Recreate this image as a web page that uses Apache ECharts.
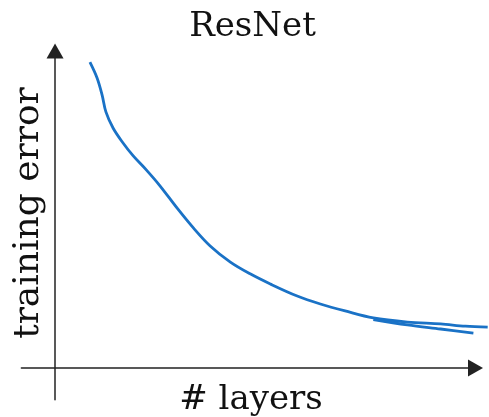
<!DOCTYPE html>
<html>
<head>
<meta charset="utf-8">
<script src="https://cdn.jsdelivr.net/npm/echarts@6/dist/echarts.min.js"></script>
<style>html,body{margin:0;padding:0;background:#fff}#c{width:489px;height:417px}</style>
</head>
<body>
<div id="c"></div>
<script>
var titleText = 'ResNet';
var xLabel = '# layers';
var yLabel = 'training error';
var layersMain = [8.3, 10.0, 11.2, 12.1, 13.8, 16.0, 18.6, 21.7, 25.0, 29.0, 32.9, 36.9, 41.7, 46.4, 51.2, 57.6, 63.1, 69.0, 75.7, 83.8, 91.7, 97.6, 102.9];
var errorMain  = [96.5, 91.5, 86.1, 80.8, 75.7, 71.3, 66.9, 62.5, 57.4, 50.5, 44.2, 38.5, 33.4, 29.7, 26.5, 22.7, 20.2, 18.0, 15.8, 14.5, 13.9, 13.2, 12.9];
var layersRetrace = [75.7, 83.8, 91.7, 99.5];
var errorRetrace  = [15.3, 13.6, 12.3, 11.0];

function pairs(xs, ys) { return xs.map(function (x, i) { return [x, ys[i]]; }); }

var chart = echarts.init(document.getElementById('c'), null, {renderer: 'canvas'});
var font = '"DejaVu Serif", "Liberation Serif", serif';
var gridLeft = 21.4, gridWidth = 454.1, gridTop = 51, gridHeight = 348.7;
var xMin = -8, xMax = 100, xMaxData = 106;
var hidden = {axisLine: {show: false}, axisTick: {show: false}, axisLabel: {show: false}, splitLine: {show: false}};
var axisCommon = {
  type: 'value',
  axisLine: {show: true, onZero: true, symbol: ['none', 'triangle'], symbolSize: [17, 15], lineStyle: {color: '#222', width: 1.5}},
  axisTick: {show: false}, axisLabel: {show: false}, splitLine: {show: false}
};
chart.setOption({
  animation: false,
  backgroundColor: '#fff',
  grid: [
    {left: gridLeft, width: gridWidth, top: gridTop, height: gridHeight, outerBoundsMode: 'none', containLabel: false},
    {left: gridLeft, width: gridWidth * (xMaxData - xMin) / (xMax - xMin), top: gridTop, height: gridHeight, outerBoundsMode: 'none', containLabel: false}
  ],
  xAxis: [
    Object.assign({}, axisCommon, {gridIndex: 0, min: xMin, max: xMax}),
    Object.assign({type: 'value', gridIndex: 1, min: xMin, max: xMaxData}, hidden)
  ],
  yAxis: [
    Object.assign({}, axisCommon, {gridIndex: 0, min: -10, max: 100}),
    Object.assign({type: 'value', gridIndex: 1, min: -10, max: 100}, hidden)
  ],
  graphic: [
    {type: 'text', x: 252.5, y: 27, style: {text: titleText, font: '34px ' + font, fill: '#111', align: 'center', verticalAlign: 'middle'}},
    {type: 'text', x: 251, y: 400, style: {text: xLabel, font: '34px ' + font, fill: '#111', align: 'center', verticalAlign: 'middle'}},
    {type: 'text', x: 29, y: 213, rotation: Math.PI / 2, style: {text: yLabel, font: '36px ' + font, fill: '#111', align: 'center', verticalAlign: 'middle'}}
  ],
  series: [
    {type: 'line', xAxisIndex: 1, yAxisIndex: 1, data: pairs(layersMain, errorMain), showSymbol: false, smooth: 0.35,
     lineStyle: {color: '#1a72c6', width: 2.8}},
    {type: 'line', xAxisIndex: 1, yAxisIndex: 1, data: pairs(layersRetrace, errorRetrace), showSymbol: false, smooth: 0.35,
     lineStyle: {color: '#1a72c6', width: 2.8}}
  ]
});
</script>
</body>
</html>
